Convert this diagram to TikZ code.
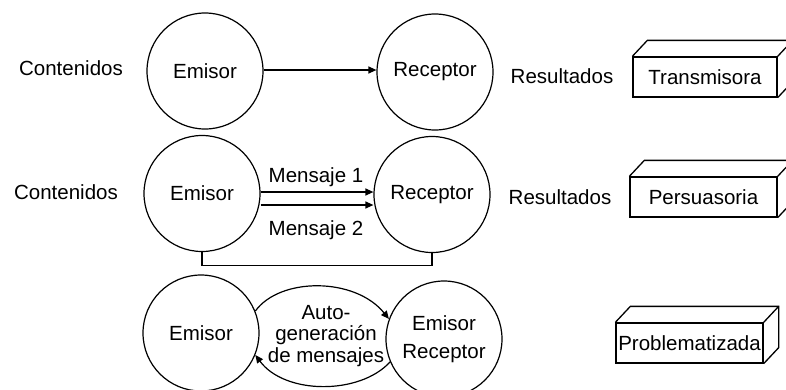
\documentclass[tikz,border=0pt]{standalone}
\usepackage{fontspec}
\setmainfont{Liberation Sans}
\usetikzlibrary{arrows.meta}
\begin{document}
\begin{tikzpicture}[x=1pt,y=-1pt,
  every node/.style={font=\fontsize{20.5}{21}\selectfont, inner sep=0pt},
  actor/.style={circle, draw, line width=1.2pt, minimum size=116pt},
  lbl/.style={},
  front/.style={draw, line width=1.3pt, minimum height=40pt},
  flow/.style={line width=1.2pt, -{Triangle[length=8pt,width=7pt]}},
  plain/.style={line width=1.2pt}]
\useasboundingbox (0,0) rectangle (786,389);

% row 1: transmisora
\node[lbl] (c1) at (71,68) {Contenidos};
\node[actor] (e1) at (205,71) {Emisor};
\node[actor] (r1) at (435,72) {Receptor};
\node[lbl] (s1) at (562,76) {Resultados};
\node[front, minimum width=144pt] (b1) at (705,77) {Transmisora};
\draw[flow] ([yshift=1pt]e1.east) -- ([yshift=2pt]r1.west);

% row 2: persuasoria
\node[lbl] (c2) at (66,192) {Contenidos};
\node[actor] (e2) at (202,193.5) {Emisor};
\node[actor] (r2) at (432,194.5) {Receptor};
\node[lbl] (s2) at (560,197) {Resultados};
\node[front, minimum width=147pt] (b2) at (703.5,197) {Persuasoria};
\draw[flow] ([yshift=1.5pt]e2.east) -- ([yshift=2.5pt]r2.west);
\draw[flow] ([yshift=-11.5pt]e2.east) -- ([yshift=-10.5pt]r2.west);
\node[anchor=base] (m1) at (316,182) {Mensaje 1};
\node[anchor=base] (m2) at (316,235) {Mensaje 2};
\draw[plain] (e2.south) -- ++(0,13) coordinate (fb) -| (r2.south);

% row 3: problematizada
\node[actor] (e3) at (201,333) {Emisor};
\node[actor, align=center, font=\fontsize{20.5}{28}\selectfont] (r3) at (444,339) {Emisor\\Receptor};
\node[align=center, font=\fontsize{20.5}{21.5}\selectfont] (auto) at (326,336) {Auto-\\generación\\de mensajes};
\node[front, minimum width=147pt] (b3) at (689.5,343) {Problematizada};
\draw[flow] (e3.22) .. controls (280,277) and (355,277) .. (r3.160);
\draw[flow] (r3.203) .. controls (360,395) and (285,395) .. (e3.-22);

% box depth edges
\foreach \b in {b1,b2,b3}{
  \draw[line width=1.3pt] (\b.north west) -- ++(15,-16) -| ([shift={(15,-16)}]\b.south east) -- (\b.south east);
  \draw[line width=1.3pt] (\b.north east) -- ++(15,-16);
}
\end{tikzpicture}
\end{document}
